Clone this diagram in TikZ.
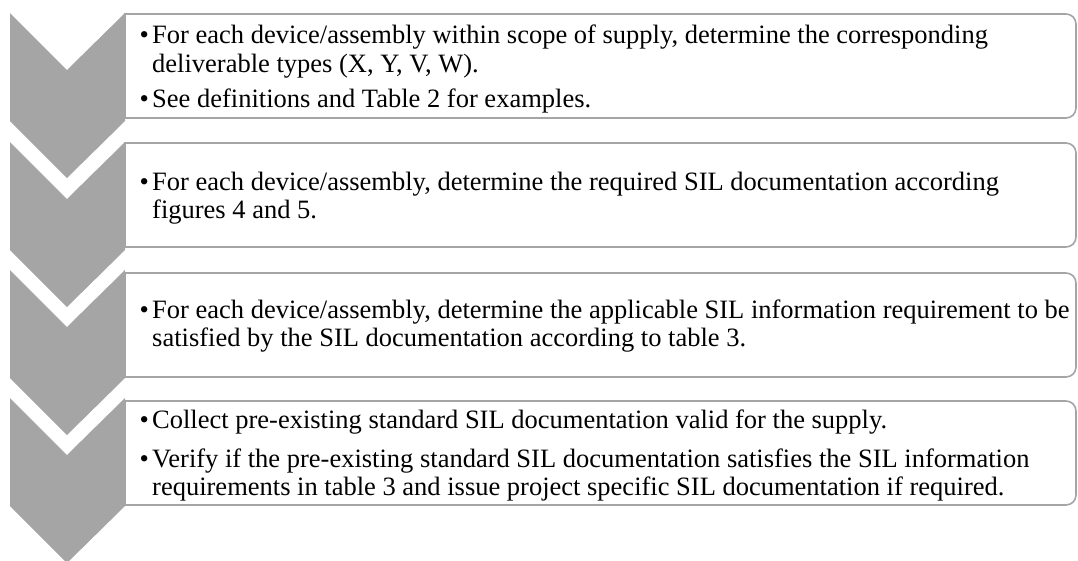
\documentclass[tikz,border=0pt]{standalone}
\usepackage{fontspec}
\setmainfont{Liberation Serif}
\usetikzlibrary{positioning, calc}

\begin{document}
\begin{tikzpicture}[x=1pt, y=-1pt]
\definecolor{chevGrey}{HTML}{A5A5A5}

\tikzset{
    chevron/.style={fill=chevGrey, draw=none},
    stepbox/.style={draw=chevGrey, line width=1.6pt, fill=white},
    itemtext/.style={anchor=base west, inner sep=0pt,
        font=\fontsize{26.5}{28}\selectfont, text=black},
    itembullet/.style={anchor=base east, inner sep=0pt,
        font=\fontsize{26.5}{28}\selectfont, text=black},
}

\useasboundingbox (0,0) rectangle (1078,560);

% grey down-chevrons on the left
\foreach \y in {13,142,270,398}
    \fill[chevron] (10,\y) -- (67,\y+57) -- (125,\y) -- (125,\y+108)
        -- (67,\y+165) -- (10,\y+108) -- cycle;

% text boxes, rounded on the right only
\foreach \t in {14,143,273,401}
    \draw[stepbox] (125,\t) [rounded corners=10pt] -- (1076,\t)
        -- (1076,\t+104) [sharp corners] -- (125,\t+104) -- cycle;

% step 1
\node[itemtext] (s1a) at (152,43) {For each device/assembly within scope of supply, determine the corresponding};
\node[itemtext] (s1b) at (152,72) {deliverable types (X, Y, V, W).};
\node[itemtext] (s1c) at (152,107) {See definitions and Table 2 for examples.};
\node[itembullet] (d1a) at ([xshift=-3pt]s1a.base west) {\textbullet};
\node[itembullet] (d1c) at ([xshift=-3pt]s1c.base west) {\textbullet};

% step 2
\node[itemtext] (s2a) at (152,190) {For each device/assembly, determine the required SIL documentation according};
\node[itemtext] (s2b) at (152,218) {figures 4 and 5.};
\node[itembullet] (d2a) at ([xshift=-3pt]s2a.base west) {\textbullet};

% step 3
\node[itemtext] (s3a) at (152,318) {For each device/assembly, determine the applicable SIL information requirement to be};
\node[itemtext] (s3b) at (152,346) {satisfied by the SIL documentation according to table 3.};
\node[itembullet] (d3a) at ([xshift=-3pt]s3a.base west) {\textbullet};

% step 4
\node[itemtext] (s4a) at (152,428) {Collect pre-existing standard SIL documentation valid for the supply.};
\node[itemtext] (s4b) at (152,467) {Verify if the pre-existing standard SIL documentation satisfies the SIL information};
\node[itemtext] (s4c) at (152,495) {requirements in table 3 and issue project specific SIL documentation if required.};
\node[itembullet] (d4a) at ([xshift=-3pt]s4a.base west) {\textbullet};
\node[itembullet] (d4b) at ([xshift=-3pt]s4b.base west) {\textbullet};

\end{tikzpicture}
\end{document}
